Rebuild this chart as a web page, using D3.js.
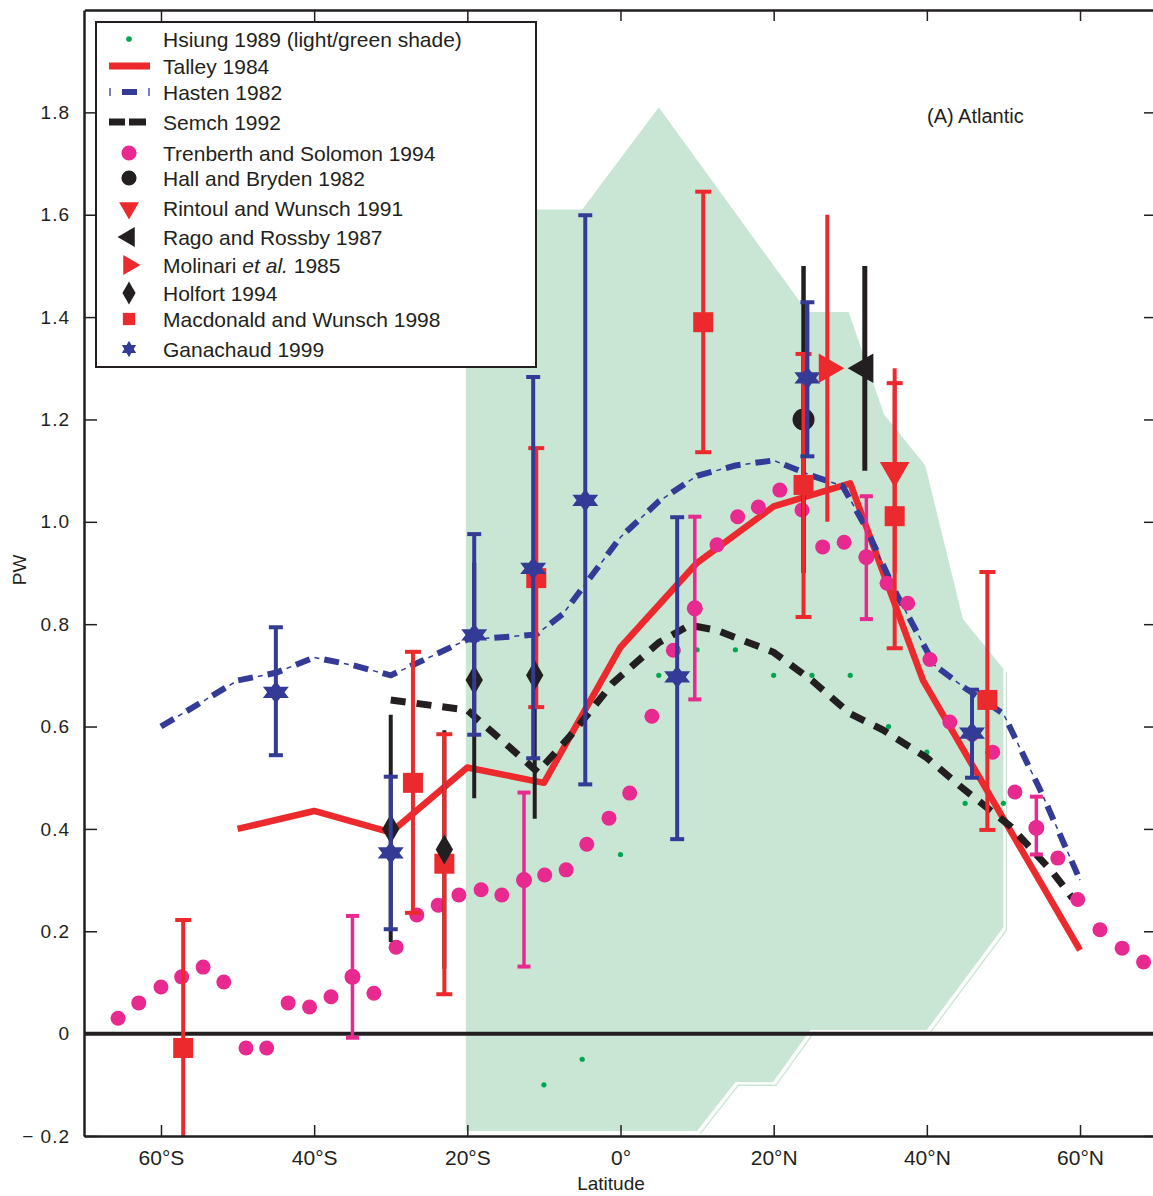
<!DOCTYPE html>
<html>
<head>
  <style>
    body { margin: 0; background: white; }
    svg { font-family: "Liberation Sans", Arial, sans-serif; }
    .axis path, .axis line { stroke: #231f20; }
    .axis text { fill: #231f20; }
  </style>
</head>
<body>
  <div id="chart"></div>
  <script src="https://d3js.org/d3.v7.min.js"></script>
  <script>
    var width = 1153, height = 1196;

    // Hsiung 1989 dots and the shaded band
    var hsiungLat = [-10, -5, 0, 5, 10, 15, 20, 25, 30, 35, 40, 45, 50];
    var hsiungPW  = [-0.10, -0.05, 0.35, 0.70, 0.75, 0.75, 0.70, 0.70, 0.70, 0.60, 0.55, 0.45, 0.45];
    var shadeLat = [-20.2, -20.2, -5, 5, 24.4, 29.8, 34.4, 39.8, 44.7, 50, 50, 40, 24.8, 19.9, 15, 10];
    var shadePW  = [-0.19, 1.61, 1.61, 1.81, 1.41, 1.41, 1.21, 1.11, 0.81, 0.713, 0.208, 0.007, 0.007, -0.095, -0.095, -0.19];

    // lines
    var talleyLat = [-50, -40, -30, -20, -10, 0, 10, 20, 30, 39.5, 60];
    var talleyPW  = [0.40, 0.435, 0.393, 0.52, 0.49, 0.755, 0.92, 1.03, 1.075, 0.69, 0.163];
    var hastenLat = [-60, -55, -50, -45, -40, -35, -30, -25, -20, -15, -11, -7.5, -5, 0, 5, 10, 15, 20, 25, 29, 32, 36, 41, 45, 50, 55, 60];
    var hastenPW  = [0.60, 0.645, 0.69, 0.705, 0.735, 0.72, 0.70, 0.735, 0.77, 0.775, 0.78, 0.82, 0.87, 0.97, 1.04, 1.09, 1.11, 1.12, 1.09, 1.07, 0.99, 0.86, 0.72, 0.675, 0.625, 0.47, 0.30];
    var semchLat = [-30, -20, -10.8, -6.2, -1, 5, 9, 12.6, 20, 25, 30, 34.3, 40, 44.3, 51, 56.5, 59];
    var semchPW  = [0.652, 0.632, 0.511, 0.588, 0.685, 0.764, 0.798, 0.788, 0.745, 0.69, 0.625, 0.593, 0.539, 0.484, 0.404, 0.314, 0.265];

    // Trenberth and Solomon 1994
    var tsLat = [-65.6, -62.9, -60.0, -57.3, -54.5, -51.8, -48.9, -46.2, -43.4, -40.6, -37.8, -35.0, -32.2, -29.3, -26.6, -23.8, -21.1, -18.2, -15.5, -12.6, -9.9, -7.1, -4.4, -1.5, 1.2, 4.1, 6.9, 9.7, 12.6, 15.3, 18.0, 20.8, 23.7, 26.4, 29.2, 32.1, 34.8, 37.5, 40.4, 43.0, 45.9, 48.6, 51.5, 54.3, 57.1, 59.7, 62.6, 65.5, 68.3];
    var tsPW  = [0.030, 0.060, 0.091, 0.111, 0.130, 0.101, -0.028, -0.028, 0.060, 0.052, 0.072, 0.111, 0.079, 0.169, 0.232, 0.251, 0.271, 0.281, 0.271, 0.300, 0.310, 0.320, 0.370, 0.421, 0.470, 0.620, 0.749, 0.831, 0.955, 1.010, 1.029, 1.062, 1.023, 0.951, 0.960, 0.931, 0.880, 0.841, 0.731, 0.609, 0.585, 0.550, 0.472, 0.402, 0.343, 0.262, 0.203, 0.167, 0.140];
    var tsErrLat = [-35.0, -12.6, 9.7, 32.1, 54.3];
    var tsErrPW  = [0.111, 0.300, 0.831, 0.931, 0.402];
    var tsErrLo  = [-0.008, 0.131, 0.653, 0.810, 0.350];
    var tsErrHi  = [0.230, 0.471, 1.010, 1.050, 0.463];

    // Ganachaud 1999
    var ganLat = [-45.0, -30.0, -19.1, -11.4, -4.6, 7.4, 24.4, 45.9];
    var ganPW  = [0.667, 0.353, 0.779, 0.909, 1.042, 0.697, 1.281, 0.587];
    var ganLo  = [0.544, 0.204, 0.584, 0.538, 0.487, 0.380, 1.128, 0.500];
    var ganHi  = [0.794, 0.502, 0.976, 1.283, 1.599, 1.009, 1.429, 0.672];

    // Macdonald and Wunsch 1998
    var mwLat = [-57.1, -27.1, -23.0, -11.0, 10.8, 23.9, 35.8, 47.9];
    var mwPW  = [-0.028, 0.490, 0.332, 0.890, 1.390, 1.072, 1.011, 0.652];
    var mwLo  = [-0.30, 0.236, 0.077, 0.638, 1.136, 0.814, 0.753, 0.398];
    var mwHi  = [0.222, 0.746, 0.585, 1.144, 1.645, 1.328, 1.271, 0.902];

    // Holfort 1994
    var holfLat = [-30.0, -23.0, -19.1, -11.2];
    var holfPW  = [0.400, 0.360, 0.691, 0.700];
    var holfLo  = [0.179, 0.127, 0.460, 0.420];
    var holfHi  = [0.623, 0.593, 0.920, 0.980];

    // single estimates
    var hbLat = [23.9], hbPW = [1.20], hbLo = [0.90], hbHi = [1.50];
    var rwLat = [35.8], rwPW = [1.10], rwLo = [0.90], rwHi = [1.30];
    var rrLat = [31.9], rrPW = [1.30], rrLo = [1.10], rrHi = [1.50];
    var molLat = [27.0], molPW = [1.30], molLo = [1.00], molHi = [1.60];

    var xTicks = [-60, -40, -20, 0, 20, 40, 60];
    var yTicks = [-0.2, 0, 0.2, 0.4, 0.6, 0.8, 1.0, 1.2, 1.4, 1.6, 1.8];

    var RED = "#ec2a2e", BLUE = "#333b97", PINK = "#e8298f", BLACK = "#231f20", GREEN = "#00a651", SHADE = "#c9e6d5";

    var x = d3.scaleLinear().domain([-70, 70]).range([84.4, 1156.6]);
    var y = d3.scaleLinear().domain([-0.2, 2.0]).range([1136, 10]);

    var svg = d3.select("#chart").append("svg")
        .attr("width", width).attr("height", height);

    svg.append("clipPath").attr("id", "clip")
      .append("rect").attr("x", 84).attr("y", 10).attr("width", 1073).attr("height", 1126);

    var plot = svg.append("g").attr("clip-path", "url(#clip)");

    function zip(a, b) { return a.map((d, i) => [d, b[i]]); }
    var line = d3.line().x(d => x(d[0])).y(d => y(d[1]));

    // shaded band
    var shade = zip(shadeLat, shadePW);
    plot.append("path").attr("d", line(shade) + "Z").attr("fill", SHADE);
    // faint double edge on the lower right of the band
    plot.append("path").attr("d", line(shade.slice(9)))
        .attr("transform", "translate(3,3)")
        .attr("fill", "none").attr("stroke", SHADE).attr("stroke-width", 1.3);

    // zero line
    plot.append("line").attr("x1", 84).attr("x2", 1157).attr("y1", y(0)).attr("y2", y(0))
        .attr("stroke", BLACK).attr("stroke-width", 4);

    // Hsiung dots
    plot.selectAll(".hs").data(zip(hsiungLat, hsiungPW)).enter().append("circle")
        .attr("cx", d => x(d[0])).attr("cy", d => y(d[1])).attr("r", 2.6).attr("fill", GREEN);

    // Talley
    plot.append("path").attr("d", line(zip(talleyLat, talleyPW)))
        .attr("fill", "none").attr("stroke", RED).attr("stroke-width", 6.5)
        .attr("stroke-linejoin", "round");

    // Hasten dash-dot
    var hastenD = line(zip(hastenLat, hastenPW));
    plot.append("path").attr("d", hastenD).attr("fill", "none").attr("stroke", BLUE)
        .attr("stroke-width", 6).attr("stroke-dasharray", "15,15");
    plot.append("path").attr("d", hastenD).attr("fill", "none").attr("stroke", BLUE)
        .attr("stroke-width", 1.5).attr("stroke-dasharray", "5,25").attr("stroke-dashoffset", -20);

    // Semch dashed
    plot.append("path").attr("d", line(zip(semchLat, semchPW)))
        .attr("fill", "none").attr("stroke", BLACK).attr("stroke-width", 7)
        .attr("stroke-dasharray", "15,11");

    // Trenberth dots
    plot.selectAll(".ts").data(zip(tsLat, tsPW)).enter().append("circle")
        .attr("cx", d => x(d[0])).attr("cy", d => y(d[1])).attr("r", 7.5).attr("fill", PINK);

    function errBars(lat, lo, hi, color, w, cap) {
      var g = plot.append("g");
      lat.forEach((d, i) => {
        g.append("line").attr("x1", x(d)).attr("x2", x(d)).attr("y1", y(lo[i])).attr("y2", y(hi[i]))
          .attr("stroke", color).attr("stroke-width", w);
        if (cap > 0) {
          [lo[i], hi[i]].forEach(v => {
            g.append("line").attr("x1", x(d) - cap / 2).attr("x2", x(d) + cap / 2)
              .attr("y1", y(v)).attr("y2", y(v)).attr("stroke", color).attr("stroke-width", 4);
          });
        }
      });
    }

    // hexagram symbol
    var hexagram = {
      draw: function(ctx, size) {
        var R = Math.sqrt(size) * 0.75, r = R / Math.sqrt(3);
        for (var k = 0; k < 12; k++) {
          var a = -Math.PI / 2 + k * Math.PI / 6, rr = k % 2 ? r : R;
          if (k === 0) ctx.moveTo(rr * Math.cos(a), rr * Math.sin(a));
          else ctx.lineTo(rr * Math.cos(a), rr * Math.sin(a));
        }
        ctx.closePath();
      }
    };

    function markers(lat, pw, type, size, color, tf) {
      plot.selectAll(null).data(zip(lat, pw)).enter().append("path")
        .attr("d", d3.symbol().type(type).size(size))
        .attr("transform", d => "translate(" + x(d[0]) + "," + y(d[1]) + ")" + (tf || ""))
        .attr("fill", color);
    }

    // Trenberth error points
    errBars(tsErrLat, tsErrLo, tsErrHi, PINK, 3.5, 13);
    markers(tsErrLat, tsErrPW, d3.symbolCircle, 200, PINK);

    // Holfort
    errBars(holfLat, holfLo, holfHi, BLACK, 4, 0);
    // Hall and Bryden
    errBars(hbLat, hbLo, hbHi, BLACK, 4.5, 0);
    markers(hbLat, hbPW, d3.symbolCircle, 380, BLACK);
    // Macdonald and Wunsch
    errBars(mwLat, mwLo, mwHi, RED, 4, 16);
    markers(mwLat, mwPW, d3.symbolSquare, 400, RED);
    markers(holfLat, holfPW, d3.symbolDiamond, 260, BLACK);
    // Ganachaud
    errBars(ganLat, ganLo, ganHi, BLUE, 4, 14);
    markers(ganLat, ganPW, hexagram, 400, BLUE, "scale(1,0.75)");
    // Molinari
    errBars(molLat, molLo, molHi, RED, 4, 0);
    markers(molLat, molPW, d3.symbolTriangle, 380, RED, "rotate(90)");
    // Rago and Rossby
    errBars(rrLat, rrLo, rrHi, BLACK, 5, 0);
    markers(rrLat, rrPW, d3.symbolTriangle, 380, BLACK, "rotate(-90)");
    // Rintoul and Wunsch
    errBars(rwLat, rwLo, rwHi, RED, 4, 0);
    markers(rwLat, rwPW, d3.symbolTriangle, 380, RED, "rotate(180)");

    // axes
    function latFmt(d) { return d === 0 ? "0°" : Math.abs(d) + "°" + (d < 0 ? "S" : "N"); }
    function pwFmt(d) { return d === 0 ? "0" : d < 0 ? "\u2212 " + Math.abs(d).toFixed(1) : d.toFixed(1); }

    var gx = svg.append("g").attr("class", "axis").attr("transform", "translate(0,1136)")
        .call(d3.axisBottom(x).tickValues(xTicks).tickFormat(latFmt).tickSizeInner(-11).tickSizeOuter(0).tickPadding(14));
    var gxt = svg.append("g").attr("class", "axis").attr("transform", "translate(0,10)")
        .call(d3.axisTop(x).tickValues(xTicks).tickFormat("").tickSizeInner(-11).tickSizeOuter(0));
    var gy = svg.append("g").attr("class", "axis").attr("transform", "translate(84,0)")
        .call(d3.axisLeft(y).tickValues(yTicks).tickFormat(pwFmt).tickSizeInner(-13).tickSizeOuter(0).tickPadding(14));
    var gyr = svg.append("g").attr("class", "axis").attr("transform", "translate(1156,0)")
        .call(d3.axisRight(y).tickValues(yTicks).tickFormat("").tickSizeInner(-12).tickSizeOuter(0));

    svg.selectAll(".axis path").attr("stroke-width", 2.5);
    svg.selectAll(".axis .tick line").attr("stroke-width", 1.5).attr("stroke", "#555");
    gx.selectAll("text").attr("font-size", 21);
    gy.selectAll("text").attr("font-size", 19).attr("letter-spacing", 1);

    svg.append("text").attr("x", 611).attr("y", 1190).attr("text-anchor", "middle")
        .attr("font-size", 19).attr("fill", BLACK).text("Latitude");
    svg.append("text").attr("transform", "translate(26,570) rotate(-90)").attr("text-anchor", "middle")
        .attr("font-size", 19).attr("fill", BLACK).text("PW");
    svg.append("text").attr("x", 927).attr("y", 123).attr("font-size", 20).attr("fill", BLACK).text("(A) Atlantic");

    // legend
    var lg = svg.append("g");
    lg.append("rect").attr("x", 96).attr("y", 22).attr("width", 440).attr("height", 345)
        .attr("fill", "white").attr("stroke", BLACK).attr("stroke-width", 2);

    var legendNames = ["Hsiung 1989 (light/green shade)", "Talley 1984", "Hasten 1982", "Semch 1992",
      "Trenberth and Solomon 1994", "Hall and Bryden 1982", "Rintoul and Wunsch 1991", "Rago and Rossby 1987",
      "Molinari et al. 1985", "Holfort 1994", "Macdonald and Wunsch 1998", "Ganachaud 1999"];
    var legendY = [39, 66, 92, 122, 153, 178, 208, 237, 265, 293, 319, 349];

    legendNames.forEach((name, i) => {
      var t = lg.append("text").attr("x", 163).attr("y", legendY[i]).attr("dy", "0.36em")
          .attr("font-size", 21).attr("fill", BLACK);
      if (name.indexOf("et al.") >= 0) {
        t.append("tspan").text("Molinari ");
        t.append("tspan").attr("font-style", "italic").text("et al.");
        t.append("tspan").text(" 1985");
      } else t.text(name);
    });

    function lsym(i, type, size, color, tf) {
      lg.append("path").attr("d", d3.symbol().type(type).size(size))
        .attr("transform", "translate(129," + legendY[i] + ")" + (tf || "")).attr("fill", color);
    }
    lsym(0, d3.symbolCircle, 25, GREEN);
    lg.append("line").attr("x1", 109).attr("x2", 150).attr("y1", legendY[1]).attr("y2", legendY[1])
        .attr("stroke", RED).attr("stroke-width", 7);
    lg.append("line").attr("x1", 122).attr("x2", 137).attr("y1", legendY[2]).attr("y2", legendY[2])
        .attr("stroke", BLUE).attr("stroke-width", 6);
    [110, 149].forEach(v => lg.append("line").attr("x1", v).attr("x2", v)
        .attr("y1", legendY[2] - 4).attr("y2", legendY[2] + 4).attr("stroke", BLUE).attr("stroke-width", 1.3));
    [[109, 125], [129, 146]].forEach(v => lg.append("line").attr("x1", v[0]).attr("x2", v[1])
        .attr("y1", legendY[3]).attr("y2", legendY[3]).attr("stroke", BLACK).attr("stroke-width", 7));
    lsym(4, d3.symbolCircle, 180, PINK);
    lsym(5, d3.symbolCircle, 180, BLACK);
    lsym(6, d3.symbolTriangle, 170, RED, "rotate(180)");
    lsym(7, d3.symbolTriangle, 170, BLACK, "rotate(-90)");
    lsym(8, d3.symbolTriangle, 170, RED, "rotate(90)");
    lsym(9, d3.symbolDiamond, 150, BLACK);
    lsym(10, d3.symbolSquare, 150, RED);
    lsym(11, hexagram, 120, BLUE);
  </script>
</body>
</html>
